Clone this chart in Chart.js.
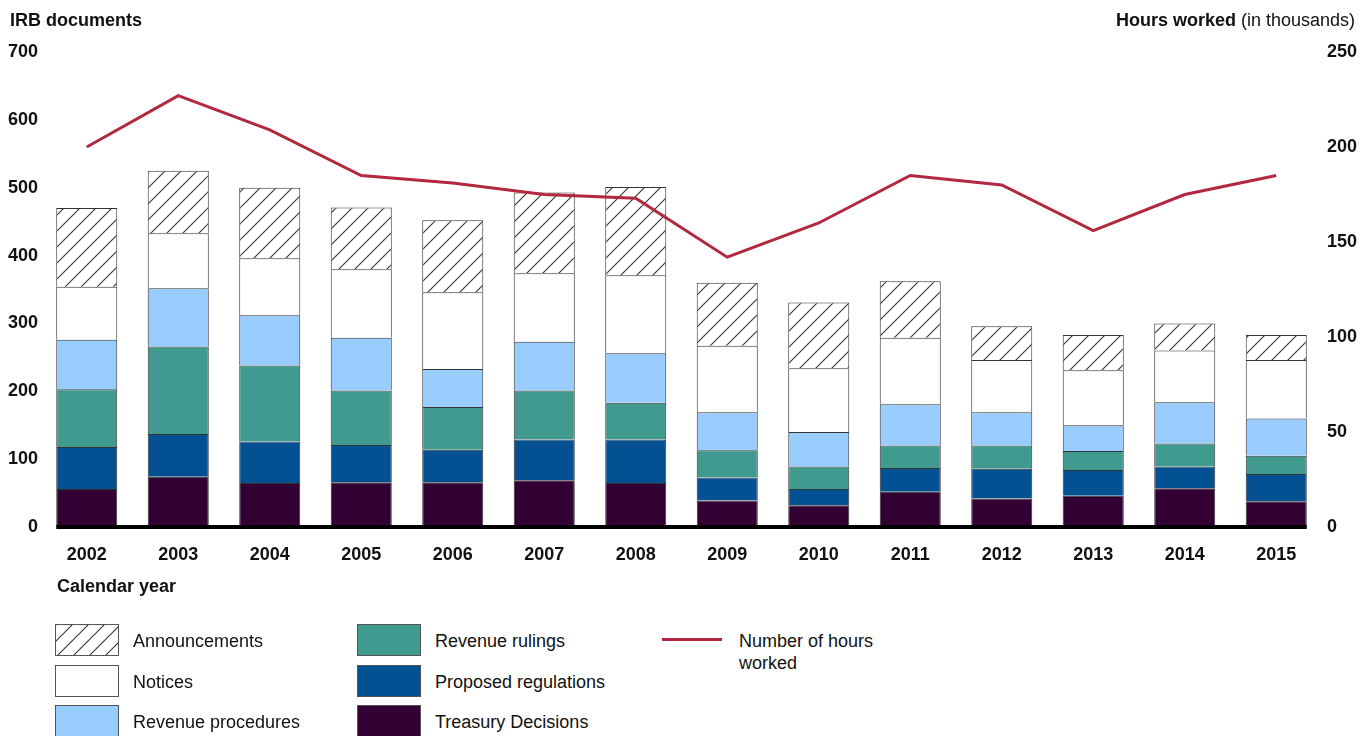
<!DOCTYPE html>
<html lang="en">
<head>
  <meta charset="UTF-8">
  <title>IRB documents and hours worked</title>
  <script src="https://cdn.jsdelivr.net/npm/chart.js"></script>
  <style>
    body { margin: 0; background: #fff; font-family: "Liberation Sans", Arial, sans-serif; color: #111; }
    .page { position: relative; width: 1361px; height: 736px; overflow: hidden; }
    .chart-box { position: absolute; left: 0; top: 0; width: 1361px; height: 580px; }
    .title { position: absolute; font-size: 18px; line-height: 18px; white-space: nowrap; }
    .title b { font-weight: bold; }
    #leftTitle { left: 10px; top: 11px; font-weight: bold; }
    #rightTitle { right: 6px; top: 11px; }
    #xTitle { left: 57px; top: 577px; font-weight: bold; }
    .legend-item { position: absolute; height: 32px; }
    .swatch { position: absolute; left: 0; top: 0; width: 62px; height: 30px; border: 1px solid #555; }
    .legend-text { position: absolute; left: 78px; top: 6px; font-size: 18px; line-height: 22px; white-space: nowrap; }
    .line-swatch { position: absolute; left: 0; top: 14px; width: 60px; height: 3px; }
  </style>
</head>
<body>
<div class="page">
  <div class="chart-box"><canvas id="irbChart"></canvas></div>
  <div class="title" id="leftTitle">IRB documents</div>
  <div class="title" id="rightTitle"><b>Hours worked</b> (in thousands)</div>
  <div class="title" id="xTitle">Calendar year</div>
  <div id="legend"></div>
</div>

<script>
  // data
  const years = ['2002', '2003', '2004', '2005', '2006', '2007', '2008', '2009', '2010', '2011', '2012', '2013', '2014', '2015'];
  const treasuryDecisions  = [56, 74, 65, 66, 66, 69, 65, 39, 32, 52, 42, 46, 57, 38];
  const proposedRegs       = [62, 63, 61, 55, 48, 60, 64, 34, 24, 35, 44, 38, 32, 40];
  const revenueRulings     = [85, 129, 112, 80, 63, 72, 54, 40, 33, 33, 34, 28, 34, 27];
  const revenueProcedures  = [73, 86, 74, 78, 56, 72, 73, 56, 51, 61, 49, 38, 61, 55];
  const notices            = [78, 81, 84, 101, 113, 101, 115, 98, 94, 98, 77, 81, 76, 86];
  const announcements      = [116, 92, 104, 91, 106, 119, 130, 93, 97, 83, 50, 52, 40, 37];
  const hoursWorked        = [200, 227, 209, 185, 181, 175, 173, 142, 160, 185, 180, 156, 175, 185];

  const leftTicks = { min: 0, max: 700, step: 100 };
  const rightTicks = { min: 0, max: 250, step: 50 };

  // hatch tile for announcements
  const hatchTile = document.createElement('canvas');
  hatchTile.width = 16;
  hatchTile.height = 16;
  (function () {
    const c = hatchTile.getContext('2d');
    const w = hatchTile.width, h = hatchTile.height;
    c.fillStyle = '#fff';
    c.fillRect(0, 0, w, h);
    c.strokeStyle = '#333';
    c.lineWidth = 1.1;
    [[0, 0], [-w, 0], [w, 0], [0, h], [0, -h]].forEach(([dx, dy]) => {
      c.beginPath();
      c.moveTo(dx, h + dy);
      c.lineTo(w + dx, dy);
      c.stroke();
    });
  })();
  const ctx = document.getElementById('irbChart').getContext('2d');
  const hatch = ctx.createPattern(hatchTile, 'repeat');

  const lineColor = '#B1283F';
  const series = [
    { label: 'Treasury Decisions', data: treasuryDecisions, color: '#330033' },
    { label: 'Proposed regulations', data: proposedRegs, color: '#035092' },
    { label: 'Revenue rulings', data: revenueRulings, color: '#409A8F' },
    { label: 'Revenue procedures', data: revenueProcedures, color: '#99CCFF' },
    { label: 'Notices', data: notices, color: '#FFFFFF' },
    { label: 'Announcements', data: announcements, color: hatch, hatched: true }
  ];

  const barSets = series.map(s => ({
    type: 'bar',
    label: s.label,
    data: s.data,
    backgroundColor: s.color,
    borderColor: '#333',
    borderWidth: 1,
    barPercentage: 0.667,
    categoryPercentage: 1,
    yAxisID: 'y',
    order: 1
  }));

  // thick black base line under the bars
  const baseLine = {
    id: 'baseLine',
    afterDatasetsDraw(chart) {
      const meta = chart.getDatasetMeta(0);
      const first = meta.data[0];
      const last = meta.data[meta.data.length - 1];
      const y = chart.scales.y.getPixelForValue(0);
      const c = chart.ctx;
      c.save();
      c.strokeStyle = '#000';
      c.lineWidth = 4;
      c.beginPath();
      c.moveTo(first.x - first.width / 2, y);
      c.lineTo(last.x + last.width / 2, y);
      c.stroke();
      c.restore();
    }
  };

  Chart.defaults.font.family = '"Liberation Sans", Arial, sans-serif';
  Chart.defaults.color = '#111';

  const tickFont = { size: 18, weight: 'bold' };
  const noGrid = { display: false, drawTicks: false };

  new Chart(ctx, {
    data: {
      labels: years,
      datasets: [
        ...barSets,
        {
          type: 'line',
          label: 'Number of hours worked',
          data: hoursWorked,
          borderColor: lineColor,
          borderWidth: 3,
          pointRadius: 0,
          tension: 0,
          fill: false,
          yAxisID: 'y1',
          order: 0
        }
      ]
    },
    options: {
      responsive: true,
      maintainAspectRatio: false,
      animation: false,
      layout: { padding: { top: 52, left: 0, right: 0, bottom: 0 } },
      plugins: { legend: { display: false }, tooltip: { enabled: false } },
      scales: {
        x: {
          stacked: true,
          grid: noGrid,
          border: { display: false },
          ticks: { font: tickFont, padding: 17, maxRotation: 0 },
          afterFit: s => { s.height = 53; }
        },
        y: {
          stacked: true,
          min: leftTicks.min,
          max: leftTicks.max,
          grid: noGrid,
          border: { display: false },
          ticks: { stepSize: leftTicks.step, font: tickFont, padding: 3 },
          afterFit: s => { s.width = 41; }
        },
        y1: {
          position: 'right',
          min: rightTicks.min,
          max: rightTicks.max,
          grid: noGrid,
          border: { display: false },
          ticks: { stepSize: rightTicks.step, font: tickFont, padding: 5 },
          afterFit: s => { s.width = 39; }
        }
      }
    },
    plugins: [baseLine]
  });

  // legend below the chart, three columns
  const legend = document.getElementById('legend');
  const byLabel = {};
  series.forEach(s => { byLabel[s.label] = s; });
  const columns = [
    { left: 55, items: ['Announcements', 'Notices', 'Revenue procedures'] },
    { left: 357, items: ['Revenue rulings', 'Proposed regulations', 'Treasury Decisions'] }
  ];
  const rowTops = [624, 665, 705];
  columns.forEach(col => {
    col.items.forEach((name, i) => {
      const s = byLabel[name];
      const item = document.createElement('div');
      item.className = 'legend-item';
      item.style.left = col.left + 'px';
      item.style.top = rowTops[i] + 'px';
      const sw = document.createElement('div');
      sw.className = 'swatch';
      if (s.hatched) {
        sw.style.backgroundImage = 'url(' + hatchTile.toDataURL() + ')';
      } else {
        sw.style.background = s.color;
      }
      const tx = document.createElement('div');
      tx.className = 'legend-text';
      tx.textContent = name;
      item.appendChild(sw);
      item.appendChild(tx);
      legend.appendChild(item);
    });
  });
  const lineItem = document.createElement('div');
  lineItem.className = 'legend-item';
  lineItem.style.left = '662px';
  lineItem.style.top = rowTops[0] + 'px';
  lineItem.innerHTML = '<div class="line-swatch" style="background:' + lineColor + '"></div>' +
    '<div class="legend-text" style="left:77px; width:150px; white-space:normal;">Number of hours worked</div>';
  legend.appendChild(lineItem);
</script>
</body>
</html>
